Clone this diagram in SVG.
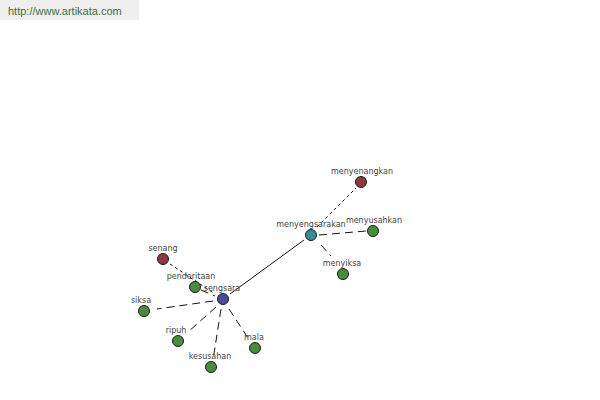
<svg xmlns="http://www.w3.org/2000/svg" width="600" height="400" viewBox="0 0 600 400">
<style>
.n{stroke:#1a1a1a;stroke-width:1}
.g{fill:#4a8c3e}.r{fill:#8c3a3a}.b{fill:#4a4aa0}.t{fill:#3a8c94}
text{font-family:"DejaVu Sans",sans-serif;font-size:8px;fill:#444;text-anchor:middle}
.e{stroke:#111;stroke-width:1;fill:none}
.d{stroke-dasharray:8,5}
.s{stroke-dasharray:3,3}
</style>
<rect x="0" y="0" width="139" height="20" fill="#eeeeee"/>
<text x="8" y="15" style="font-family:'Liberation Sans',sans-serif;font-size:11px;fill:#3c6e3c;text-anchor:start">http://www.artikata.com</text>
<g id="edges">
<line class="e" x1="230" y1="294" x2="304" y2="240"/>
<line class="e s" x1="317" y1="227" x2="356" y2="188"/>
<line class="e d" x1="319" y1="235" x2="366" y2="231"/>
<line class="e d" x1="321" y1="245" x2="331" y2="256"/>
<line class="e s" x1="170" y1="264" x2="215" y2="294"/>
<line class="e d" x1="201" y1="290" x2="215" y2="296"/>
<line class="e d" x1="213" y1="301" x2="157" y2="309"/>
<line class="e d" x1="216" y1="307" x2="188" y2="332"/>
<line class="e d" x1="221" y1="309" x2="213" y2="360"/>
<line class="e d" x1="229" y1="309" x2="248" y2="338"/>
</g>
<g id="sengsara"><circle class="n b" cx="223" cy="299" r="5.5"/><text x="222" y="291">sengsara</text></g>
<g id="menyengsarakan"><circle class="n t" cx="311" cy="235" r="5.5"/><text x="311" y="227">menyengsarakan</text></g>
<g id="menyenangkan"><circle class="n r" cx="361" cy="182" r="5.5"/><text x="362" y="174">menyenangkan</text></g>
<g id="menyusahkan"><circle class="n g" cx="373" cy="231" r="5.5"/><text x="374" y="223">menyusahkan</text></g>
<g id="menyiksa"><circle class="n g" cx="343" cy="274" r="5.5"/><text x="342" y="266">menyiksa</text></g>
<g id="senang"><circle class="n r" cx="163" cy="259" r="5.5"/><text x="163" y="251">senang</text></g>
<g id="penderitaan"><circle class="n g" cx="195" cy="287" r="5.5"/><text x="191" y="279">penderitaan</text></g>
<g id="siksa"><circle class="n g" cx="144" cy="311" r="5.5"/><text x="141" y="303">siksa</text></g>
<g id="ripuh"><circle class="n g" cx="178" cy="341" r="5.5"/><text x="176" y="333">ripuh</text></g>
<g id="kesusahan"><circle class="n g" cx="211" cy="367" r="5.5"/><text x="210" y="359">kesusahan</text></g>
<g id="mala"><circle class="n g" cx="255" cy="348" r="5.5"/><text x="254" y="340">mala</text></g>
</svg>
